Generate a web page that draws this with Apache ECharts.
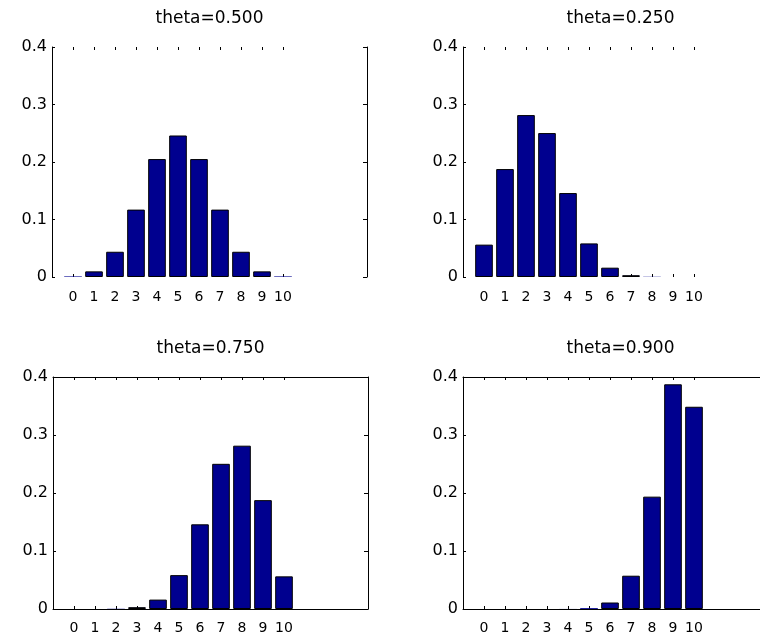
<!DOCTYPE html>
<html>
<head>
<meta charset="utf-8">
<script src="https://cdn.jsdelivr.net/npm/echarts@6/dist/echarts.min.js"></script>
<style>
html,body{margin:0;padding:0;background:#fff;overflow:hidden;width:760px;height:639px;}
#chart{width:800px;height:639px;}
</style>
</head>
<body>
<div id="chart"></div>
<script>
// ---- data ----
const categories = ['0','1','2','3','4','5','6','7','8','9','10'];
const titles = ['theta=0.500', 'theta=0.250', 'theta=0.750', 'theta=0.900'];
const theta050 = [0.0010, 0.0098, 0.0439, 0.1172, 0.2051, 0.2461, 0.2051, 0.1172, 0.0439, 0.0098, 0.0010];
const theta025 = [0.0563, 0.1877, 0.2816, 0.2503, 0.1460, 0.0584, 0.0162, 0.0031, 0.0004, 0.0000, 0.0000];
const theta075 = [0.0000, 0.0000, 0.0004, 0.0031, 0.0162, 0.0584, 0.1460, 0.2503, 0.2816, 0.1877, 0.0563];
const theta090 = [0.0000, 0.0000, 0.0000, 0.0000, 0.0001, 0.0015, 0.0112, 0.0574, 0.1937, 0.3874, 0.3487];
const yTicks = [0, 0.1, 0.2, 0.3, 0.4];

// ---- layout ----
const panels = [
  {vals: theta050, left: 52,  top: 47,  width: 315, height: 230, box: false},
  {vals: theta025, left: 463, top: 47,  width: 315, height: 230, box: false},
  {vals: theta075, left: 53,  top: 377, width: 315, height: 232, box: true},
  {vals: theta090, left: 463, top: 377, width: 315, height: 232, box: true}
];

// padded axis: one empty slot before 0, four after 10 (axis spans -1 .. 14)
const padBefore = ['-1'];
const padAfter = ['11','12','13','14'];
const axisData = padBefore.concat(categories, padAfter);
const isReal = (idx) => idx >= padBefore.length && idx < padBefore.length + categories.length;

const FONT = 'DejaVu Sans';
const LINE = {color: '#000', width: 1};
const BAR_FILL = '#00008F';

const option = {
  animation: false,
  backgroundColor: '#fff',
  title: [], grid: [], xAxis: [], yAxis: [], series: []
};

panels.forEach((p, i) => {
  option.title.push({
    text: titles[i],
    left: p.left + p.width / 2,
    top: p.top - 37,
    textAlign: 'center',
    padding: 0,
    textStyle: {fontFamily: FONT, fontSize: 17, fontWeight: 'normal', color: '#000'}
  });
  option.grid.push({left: p.left, top: p.top, width: p.width, height: p.height, containLabel: false});
  // bottom x axis with labels
  option.xAxis.push({
    type: 'category', gridIndex: i, position: 'bottom', data: axisData, boundaryGap: false,
    axisLine: {show: p.box, onZero: false, lineStyle: LINE},
    axisTick: {show: true, inside: true, length: 3, interval: (idx) => isReal(idx), lineStyle: LINE},
    axisLabel: {interval: (idx) => isReal(idx), margin: p.box ? 12 : 13, fontFamily: FONT, fontSize: 14, color: '#000'},
    splitLine: {show: false}
  });
  // top x axis: ticks only
  option.xAxis.push({
    type: 'category', gridIndex: i, position: 'top', data: axisData, boundaryGap: false,
    axisLine: {show: p.box, onZero: false, lineStyle: LINE},
    axisTick: {show: true, inside: true, length: 3, interval: (idx) => isReal(idx), lineStyle: LINE},
    axisLabel: {show: false},
    splitLine: {show: false}
  });
  // left y axis
  option.yAxis.push({
    type: 'value', gridIndex: i, position: 'left', min: yTicks[0], max: yTicks[yTicks.length - 1], interval: 0.1,
    axisLine: {show: true, onZero: false, lineStyle: LINE},
    axisTick: {show: true, inside: true, length: 3, lineStyle: LINE},
    axisLabel: {margin: 5, fontFamily: FONT, fontSize: 16, color: '#000',
      formatter: (v) => v === 0 ? '0' : v.toFixed(1)},
    splitLine: {show: false}
  });
  // right y axis
  option.yAxis.push({
    type: 'value', gridIndex: i, position: 'right', min: yTicks[0], max: yTicks[yTicks.length - 1], interval: 0.1,
    axisLine: {show: true, onZero: false, lineStyle: LINE},
    axisTick: {show: true, inside: true, length: 4, lineStyle: LINE},
    axisLabel: {show: false},
    splitLine: {show: false}
  });
  const bars = p.vals.map((v) => ({
    value: v,
    itemStyle: v < 0.002 ? {borderWidth: 0} : {}
  }));
  const data = padBefore.map(() => '-').concat(bars, padAfter.map(() => '-'));
  option.series.push({
    type: 'bar', xAxisIndex: 2 * i, yAxisIndex: 2 * i, data: data,
    barWidth: '84%',
    itemStyle: {color: BAR_FILL, borderColor: '#000', borderWidth: 1},
    emphasis: {disabled: true}
  });
});

const chart = echarts.init(document.getElementById('chart'), null, {renderer: 'canvas'});
chart.setOption(option);
</script>
</body>
</html>
